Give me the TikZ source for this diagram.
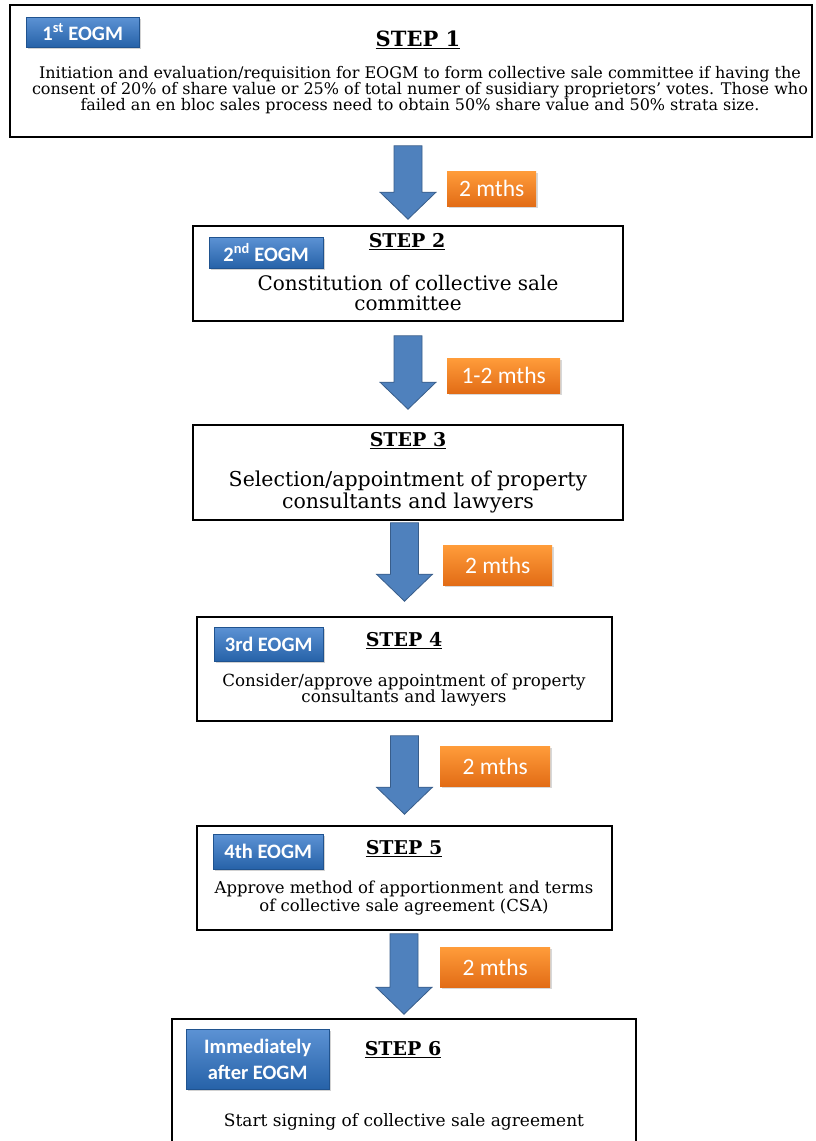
\documentclass[tikz,border=0pt]{standalone}
\usepackage{fontspec}
\setmainfont{DejaVu Serif}
\newfontfamily\tagfont{Carlito}
\usetikzlibrary{calc,shadows}
\definecolor{flowblue}{RGB}{79,129,189}
\definecolor{flowedge}{RGB}{56,93,138}
\definecolor{tagtop}{RGB}{92,146,212}
\definecolor{tagbottom}{RGB}{38,98,168}
\definecolor{durtop}{RGB}{255,156,58}
\definecolor{durbottom}{RGB}{226,108,22}

% block arrow between two steps: from, to, gap below source, gap above target
\newcommand{\flowarrow}[4]{%
  \draw[blockarrow] let \p1=(#1.south), \p2=(#2.north) in
    (\x2-14pt,\y1-#3pt) -- (\x2+14pt,\y1-#3pt) -- (\x2+14pt,\y2+#4pt+27pt)
    -- (\x2+28pt,\y2+#4pt+27pt) -- (\x2,\y2+#4pt) -- (\x2-28pt,\y2+#4pt+27pt)
    -- (\x2-14pt,\y2+#4pt+27pt) -- cycle;}

\begin{document}
\begin{tikzpicture}[x=1pt,y=-1pt,
  stepbox/.style={draw,line width=1.6pt,inner sep=0pt},
  steptitle/.style={font=\fontsize{19}{24}\selectfont\bfseries},
  stepbody/.style={align=center,inner sep=0pt},
  tag/.style={rectangle,top color=tagtop,bottom color=tagbottom,draw=tagbottom!85!black,
    line width=0.4pt,text=white,font=\tagfont\bfseries\fontsize{20.5}{26}\selectfont,
    align=center,inner sep=0pt,anchor=north west,
    drop shadow={opacity=0.35,shadow xshift=1.5pt,shadow yshift=-2pt}},
  dur/.style={rectangle,top color=durtop,bottom color=durbottom,text=white,
    font=\tagfont\fontsize{23.5}{26}\selectfont,inner sep=0pt,anchor=north west,
    drop shadow={opacity=0.3,shadow xshift=1.5pt,shadow yshift=-2pt}},
  blockarrow/.style={fill=flowblue,draw=flowedge,line width=0.8pt,line join=miter}
]
  \clip (0,0) rectangle (815,1141);
  \fill[white] (0,0) rectangle (815,1141);

  % Steps
  \node[stepbox,minimum width=802pt,minimum height=132pt] (s1) at (411,71) {};
  \node[stepbox,minimum width=430pt,minimum height=95pt] (s2) at (408,273.5) {};
  \node[stepbox,minimum width=430pt,minimum height=95pt] (s3) at (408,472.5) {};
  \node[stepbox,minimum width=415pt,minimum height=104pt] (s4) at (404.5,669) {};
  \node[stepbox,minimum width=415pt,minimum height=104pt] (s5) at (404.5,878) {};
  \node[stepbox,minimum width=464pt,minimum height=150pt] (s6) at (404,1094) {};

  \node[steptitle,font=\fontsize{21}{24}\selectfont\bfseries] (h1) at (418,40) {\underline{STEP 1}};
  \node[steptitle] (h2) at (407,242) {\underline{STEP 2}};
  \node[steptitle] (h3) at (408,441) {\underline{STEP 3}};
  \node[steptitle] (h4) at (404,641) {\underline{STEP 4}};
  \node[steptitle] (h5) at (404,849) {\underline{STEP 5}};
  \node[steptitle] (h6) at (403,1050) {\underline{STEP 6}};

  \node[stepbody,font=\fontsize{16}{16}\selectfont] (b1) at (420,90)
    {Initiation and evaluation/requisition for EOGM to form collective sale committee if having the\\
     consent of 20\% of share value or 25\% of total numer of susidiary proprietors' votes. Those who\\
     failed an en bloc sales process need to obtain 50\% share value and 50\% strata size.};
  \node[stepbody,font=\fontsize{20}{20}\selectfont] (b2) at (408,293)
    {Constitution of collective sale\\committee};
  \node[stepbody,font=\fontsize{20.5}{20}\selectfont] (b3) at (408,492)
    {Selection/appointment of property\\consultants and lawyers};
  \node[stepbody,font=\fontsize{16.7}{17}\selectfont] (b4) at (404,690)
    {Consider/approve appointment of property\\consultants and lawyers};
  \node[stepbody,font=\fontsize{16.5}{18}\selectfont] (b5) at (404,898)
    {Approve method of apportionment and terms\\of collective sale agreement (CSA)};
  \node[stepbody,font=\fontsize{17}{20}\selectfont] (b6) at (404,1122)
    {Start signing of collective sale agreement};

  % EOGM tags
  \node[tag,minimum width=113pt,minimum height=30pt] (t1) at (26,17) {1\textsuperscript{st} EOGM};
  \node[tag,minimum width=114pt,minimum height=31pt] (t2) at (209,237) {2\textsuperscript{nd} EOGM};
  \node[tag,minimum width=109pt,minimum height=34pt] (t4) at (214,627) {3rd EOGM};
  \node[tag,minimum width=110pt,minimum height=35pt] (t5) at (213,834) {4th EOGM};
  \node[tag,minimum width=143pt,minimum height=60pt] (t6) at (186,1029) {Immediately\\after EOGM};

  % Arrows and durations
  \flowarrow{s1}{s2}{8}{6}
  \flowarrow{s2}{s3}{14}{15}
  \flowarrow{s3}{s4}{2}{15}
  \flowarrow{s4}{s5}{14}{11}
  \flowarrow{s5}{s6}{3}{4}

  \node[dur,minimum width=89pt,minimum height=35pt] (d1) at (447,171) {2 mths};
  \node[dur,minimum width=113pt,minimum height=35pt] (d2) at (447,358) {1-2 mths};
  \node[dur,minimum width=109pt,minimum height=40pt] (d3) at (443,545) {2 mths};
  \node[dur,minimum width=110pt,minimum height=40pt] (d4) at (440,746) {2 mths};
  \node[dur,minimum width=110pt,minimum height=40pt] (d5) at (440,947) {2 mths};
\end{tikzpicture}
\end{document}
